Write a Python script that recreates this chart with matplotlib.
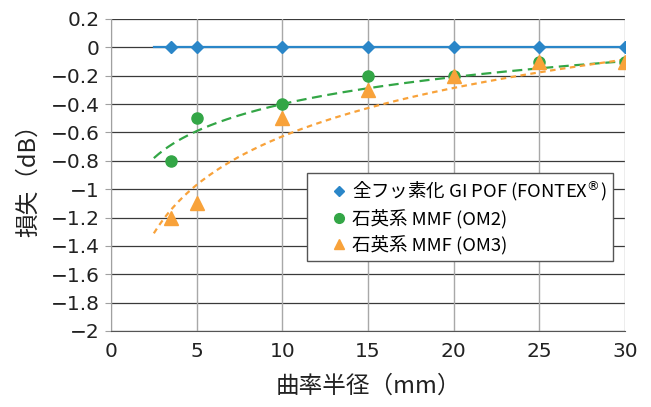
import numpy as np
import matplotlib
matplotlib.use("Agg")
import matplotlib.pyplot as plt

plt.rcParams['font.family'] = ['Noto Sans CJK JP', 'DejaVu Sans']

radius = [3.5, 5, 10, 15, 20, 25, 30]
pof = [0, 0, 0, 0, 0, 0, 0]
om2 = [-0.8, -0.5, -0.4, -0.2, -0.2, -0.1, -0.1]
om3 = [-1.2, -1.1, -0.5, -0.3, -0.2, -0.1, -0.1]
# logarithmic trendline coefficients (y = a*ln(x) + b)
om2_trend = (0.275, -1.033)
om3_trend = (0.493, -1.763)
labels = ['全フッ素化 GI POF (FONTEX$^{®}$)', '石英系 MMF (OM2)', '石英系 MMF (OM3)']
xticks = [0, 5, 10, 15, 20, 25, 30]
yticks = [0.2, 0, -0.2, -0.4, -0.6, -0.8, -1, -1.2, -1.4, -1.6, -1.8, -2]
trend_start = 2.5

c_blue = '#2a86c8'
c_green = '#33a646'
c_orange = '#f8a23a'

fig = plt.figure(figsize=(6.51, 4.07), dpi=100)
ax = fig.add_axes([111/651, 1-331/407, 514/651, 312/407])

ax.set_xlim(0, 30)
ax.set_ylim(-2, 0.2)

# grid
for y in yticks:
    ax.axhline(y, color='#3a3a3a', lw=0.9, zorder=1)
for x in xticks:
    ax.axvline(x, color='#a8a8a8', lw=1.0, zorder=1)

# blue line extends from trend_start
xs_b = [trend_start] + radius
ys_b = [pof[0]] + pof
ax.plot(xs_b, ys_b, color=c_blue, lw=1.6, zorder=3)
ax.plot(radius, pof, ls='none', marker='D', ms=6, color=c_blue, zorder=4)

# log trendlines
xx = np.linspace(trend_start, 30, 200)
for (a, b), col, dash in [(om2_trend, c_green, (4.5, 2.5)), (om3_trend, c_orange, (2.5, 2.0))]:
    ax.plot(xx, a*np.log(xx)+b, color=col, lw=1.6, dashes=dash, zorder=3)

ax.plot(radius, om2, ls='none', marker='o', ms=8, color=c_green, zorder=4)
ax.plot(radius, om3, ls='none', marker='^', ms=9.5, color=c_orange, zorder=4)

ax.set_xticks(xticks)
ax.set_yticks(yticks)
ax.set_yticklabels([('%g' % v).replace('-', '−') for v in yticks])
ax.set_xticklabels([str(v) for v in xticks])
ax.tick_params(axis='y', length=4, color='#a0a0a0', labelsize=14.5, pad=4, labelcolor='#222222')
ax.tick_params(axis='x', length=0, labelsize=14.5, pad=8, labelcolor='#222222')
for lab in ax.get_xticklabels() + ax.get_yticklabels():
    lab.set_family(['DejaVu Sans'])
for s in ['top', 'right']:
    ax.spines[s].set_visible(False)
ax.spines['left'].set_color('#a0a0a0')
ax.spines['bottom'].set_color('#555555')

ax.set_xlabel('曲率半径（mm）', fontsize=17, color='#222222', labelpad=10)
ax.set_ylabel('損失（dB）', fontsize=17, color='#222222', labelpad=8)

# legend
h1 = ax.plot([], [], ls='none', marker='D', ms=5, color=c_blue)[0]
h2 = ax.plot([], [], ls='none', marker='o', ms=7, color=c_green)[0]
h3 = ax.plot([], [], ls='none', marker='^', ms=7, color=c_orange)[0]
leg = ax.legend([h1, h2, h3], labels, loc='upper left',
                bbox_to_anchor=(0.381, 0.506), fontsize=13.3, frameon=True,
                fancybox=False, edgecolor='#555555', framealpha=1,
                handletextpad=-0.7, handlelength=2.8, borderpad=0.35,
                labelspacing=0.32, borderaxespad=0)
leg.get_frame().set_linewidth(1.0)
leg.set_zorder(5)

fig.savefig('out.png', dpi=100)
